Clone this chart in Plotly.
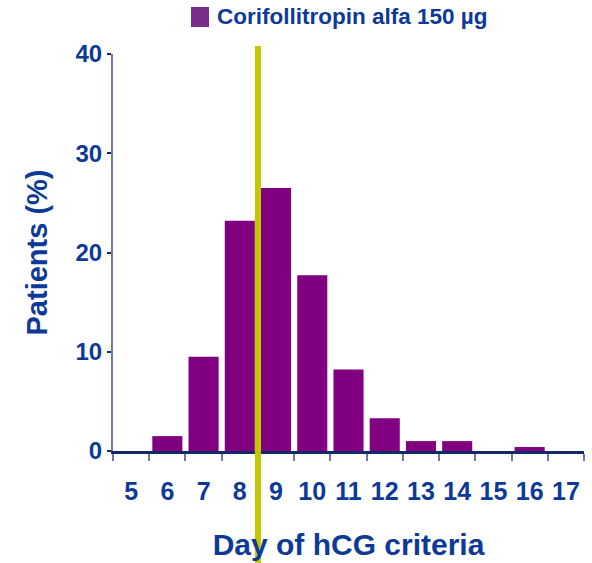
import plotly.graph_objects as go

# Distribution of the day hCG criteria were reached
days = [5, 6, 7, 8, 9, 10, 11, 12, 13, 14, 15, 16, 17]
patients_pct = [0.0, 1.5, 9.5, 23.2, 26.5, 17.7, 8.2, 3.3, 1.0, 1.0, 0.0, 0.4, 0.0]
series_name = "Corifollitropin alfa 150 µg"
y_ticks = [0, 10, 20, 30, 40]
marker_day = 8.5  # vertical reference between day 8 and day 9

BLUE = "#0d3a98"
PURPLE = "#800080"
FONT = "Liberation Sans, Arial, sans-serif"

categories = [str(d) for d in days]

fig = go.Figure()
fig.add_trace(go.Bar(
    x=categories,
    y=patients_pct,
    marker=dict(color=PURPLE, line=dict(width=0)),
    name=series_name,
    showlegend=False,
))

# category index of the reference day (halfway between neighbours)
lo = max(i for i, d in enumerate(days) if d <= marker_day)
ref_pos = lo + (marker_day - days[lo]) / (days[lo + 1] - days[lo])

fig.add_shape(
    type="line", xref="x", yref="paper",
    x0=ref_pos, x1=ref_pos, y0=1.02, y1=-0.3,
    line=dict(color="#c2c800", width=6), layer="above",
)

# legend entry
fig.add_shape(
    type="rect", xref="paper", yref="paper",
    x0=(191 - 113) / 471, x1=(209 - 113) / 471,
    y0=(451 - 27) / 397, y1=(451 - 7) / 397,
    fillcolor="#7b2d8b", line=dict(width=0),
)
fig.add_annotation(
    xref="paper", yref="paper", x=(215 - 113) / 471, y=(451 - 17) / 397,
    xanchor="left", yanchor="middle", showarrow=False,
    text="<b>" + series_name + "</b>",
    font=dict(family=FONT, size=22.5, color=BLUE),
)

fig.update_layout(
    width=592, height=563,
    margin=dict(l=113, r=8, t=54, b=112),
    paper_bgcolor="white", plot_bgcolor="white",
    bargap=0.17,
    font=dict(family=FONT, color=BLUE),
)
fig.update_xaxes(
    type="category",
    categoryorder="array", categoryarray=categories,
    tickvals=categories, ticktext=[f"<b>{c}</b>" for c in categories],
    tickson="boundaries", tickangle=0, automargin=False,
    ticks="outside", ticklen=7, tickwidth=1.5, tickcolor="#6b7ba0",
    showline=True, linecolor="#14286a", linewidth=3,
    showgrid=False, zeroline=False,
    tickfont=dict(family=FONT, size=25, color=BLUE),
    ticklabelstandoff=16,
    title=dict(text="<b>Day of hCG criteria</b>",
               font=dict(family=FONT, size=30, color=BLUE), standoff=30),
)
fig.update_yaxes(
    range=[0, 40], tickvals=y_ticks, ticktext=[f"<b>{v}</b>" for v in y_ticks],
    automargin=False,
    ticks="outside", ticklen=4, tickwidth=1.5, tickcolor="#14286a",
    showline=True, linecolor="#6b7ba0", linewidth=2,
    showgrid=False, zeroline=False,
    tickfont=dict(family=FONT, size=24, color=BLUE),
    title=dict(text="<b>Patients (%)</b>",
               font=dict(family=FONT, size=29, color=BLUE), standoff=19),
)

fig.write_html("out.html")
